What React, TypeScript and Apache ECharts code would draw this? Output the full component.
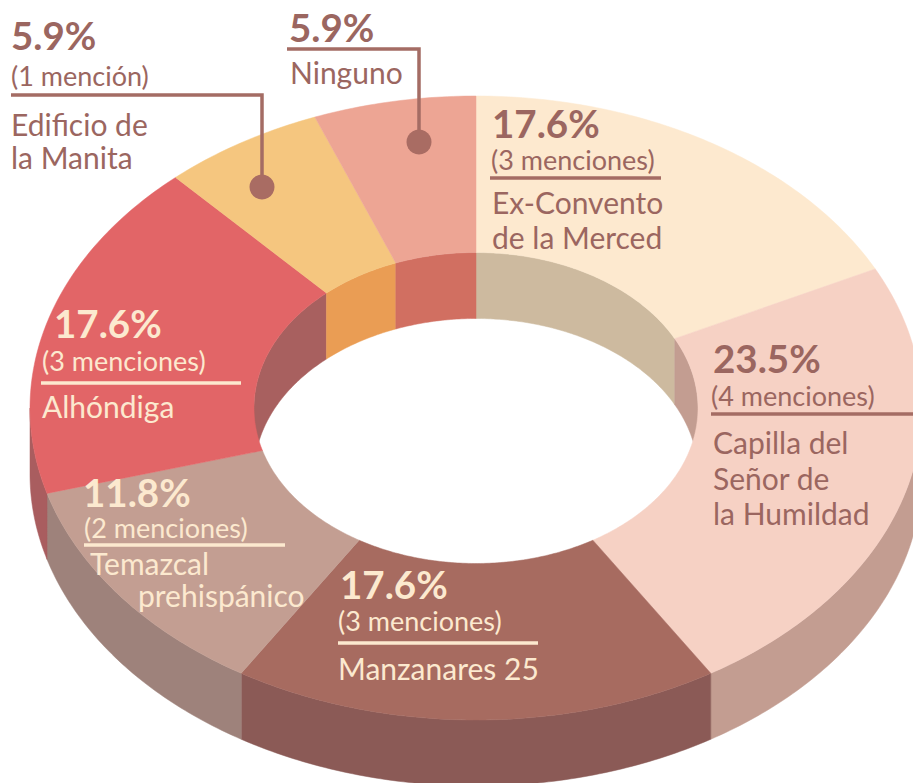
import React, { useEffect, useRef } from "react";
import * as echarts from "echarts";

const names = ["Ex-Convento de la Merced", "Capilla del Señor de la Humildad", "Manzanares 25", "Temazcal prehispánico", "Alhóndiga", "Edificio de la Manita", "Ninguno"];
const mentions = [3, 4, 3, 2, 3, 1, 1];
const percentLabels = ["17.6%", "23.5%", "17.6%", "11.8%", "17.6%", "5.9%", "5.9%"];
const mentionLabels = ["(3 menciones)", "(4 menciones)", "(3 menciones)", "(2 menciones)", "(3 menciones)", "(1 mención)", ""];
const nameLines = [["Ex-Convento", "de la Merced"], ["Capilla del", "Señor de", "la Humildad"], ["Manzanares 25"], ["Temazcal", "prehispánico"], ["Alhóndiga"], ["Edificio de", "la Manita"], ["Ninguno"]];
const topColors = ["#FDE9CF", "#F6D1C4", "#A76B60", "#C39E92", "#E26567", "#F5C67F", "#EDA594"];
const outerWallColors = ["#CDBA9F", "#C39D91", "#8B5A56", "#9E827B", "#A95D5F", "#C39D91", "#C39D91"];
const innerWallColors = ["#CDBA9F", "#C39D91", "#8B5A56", "#9E827B", "#A8605F", "#EA9D54", "#D16F61"];

const DARK = "#9B6660";
const LIGHT = "#FCE9CF";
const FONT = "Lato";

// geometry of the tilted ring
const CX = 476, CY = 408, RX = 446, RY = 312, IRX = 222, IRY = 155.5, DEPTH = 66;

// label layout, same order as the series: [x, baseline] for percent, mentions, names; rule
const layout = [
  { color: DARK, pct: [492, 137.5], men: [491, 168.5], nm: [[492, 212], [492, 247]], rule: [[490, 178], [661, 178]] },
  { color: DARK, pct: [713, 373], men: [711, 405], nm: [[713, 452], [713, 488], [713, 523]], rule: [[711, 414], [913, 414]] },
  { color: LIGHT, pct: [340, 599], men: [338, 630], nm: [[338, 678]], rule: [[338, 643], [538, 643]] },
  { color: LIGHT, pct: [83, 507], men: [84, 537], nm: [[90, 573], [138, 605]], rule: [[84, 545], [285, 545]] },
  { color: LIGHT, pct: [54, 338], men: [42, 370], nm: [[42, 416]], rule: [[41, 383], [241, 383]] },
  { color: DARK, pct: [11, 50], men: [11, 85], nm: [[11, 134], [11, 167]], rule: [[11, 95], [262, 95], [262, 187]], dot: [262, 187] },
  { color: DARK, pct: [289, 42], men: null, nm: [[290, 82]], rule: [[287, 49], [419, 49], [419, 142]], dot: [419, 142] },
];

const total = mentions.reduce((a, b) => a + b, 0);
const rad = (deg: number) => (deg * Math.PI) / 180;

function arc(rx: number, ry: number, a0: number, a1: number, dy = 0) {
  const pts: number[][] = [];
  const n = Math.max(2, Math.ceil(Math.abs(a1 - a0) / 0.75));
  for (let i = 0; i <= n; i++) {
    const a = rad(a0 + ((a1 - a0) * i) / n);
    pts.push([CX + rx * Math.sin(a), CY - ry * Math.cos(a) + dy]);
  }
  return pts;
}

function sliceAngles(dataIndex: number) {
  let sum = 0;
  for (let i = 0; i < dataIndex; i++) sum += mentions[i];
  return [(sum / total) * 360, ((sum + mentions[dataIndex]) / total) * 360];
}

function poly(points: number[][], fill: string) {
  return { type: "polygon", shape: { points }, style: { fill, stroke: fill, lineWidth: 0.5 }, silent: true };
}

function renderWalls(params: any) {
  const [a0, a1] = sliceAngles(params.dataIndex);
  const children: any[] = [];
  // outer wall: the front half of the ring
  const o0 = Math.max(a0, 90), o1 = Math.min(a1, 270);
  if (o1 > o0) {
    children.push(poly([...arc(RX, RY, o0, o1), ...arc(RX, RY, o1, o0, DEPTH)], outerWallColors[params.dataIndex]));
  }
  // inner wall: the back half of the hole
  const ranges = [[a0, Math.min(a1, 90)], [Math.max(a0, 270), a1]];
  ranges.forEach(([s, e]) => {
    if (e > s) children.push(poly([...arc(IRX, IRY, s, e), ...arc(IRX, IRY, e, s, DEPTH)], innerWallColors[params.dataIndex]));
  });
  return { type: "group", children };
}

function renderTop(params: any) {
  const [a0, a1] = sliceAngles(params.dataIndex);
  return poly([...arc(RX, RY, a0, a1), ...arc(IRX, IRY, a1, a0)], topColors[params.dataIndex]);
}

function textEl(text: string, x: number, baseline: number, size: number, fill: string, weight = 400, lift = 0.35) {
  return {
    type: "text",
    z: 100,
    silent: true,
    x,
    y: baseline - size * lift,
    style: { text, fill, font: `${weight} ${size}px ${FONT}`, textAlign: "left", textVerticalAlign: "middle" },
  };
}

function buildGraphics() {
  const out: any[] = [];
  layout.forEach((l, i) => {
    out.push(textEl(percentLabels[i], l.pct[0], l.pct[1], 38.5, l.color, 700, 0.38));
    if (l.men) out.push(textEl(mentionLabels[i], l.men[0], l.men[1], 27, l.color));
    l.nm.forEach((p, j) => out.push(textEl(nameLines[i][j], p[0], p[1], 30, l.color)));
    const lineColor = l.color === DARK ? "#A46C64" : LIGHT;
    out.push({
      type: "polyline",
      z: 99,
      silent: true,
      shape: { points: l.rule },
      style: { stroke: lineColor, lineWidth: 3.5, fill: "none" },
    });
    if (l.dot) {
      out.push({ type: "circle", z: 99, silent: true, shape: { cx: l.dot[0], cy: l.dot[1], r: 12.5 }, style: { fill: "#A96C63" } });
    }
  });
  return out;
}

export default function App() {
  const ref = useRef<HTMLDivElement>(null);
  useEffect(() => {
    const chart = echarts.init(ref.current!, null, { renderer: "svg" });
    const seriesData = mentions.map((v, i) => ({ name: names[i], value: v }));
    chart.setOption({
      animation: false,
      backgroundColor: "#ffffff",
      series: [
        { type: "custom", name: "walls", coordinateSystem: "none", z: 1, silent: true, data: seriesData, renderItem: renderWalls },
        { type: "custom", name: "top", coordinateSystem: "none", z: 2, silent: true, data: seriesData, renderItem: renderTop },
      ],
      graphic: { elements: buildGraphics() },
    });
    return () => chart.dispose();
  }, []);
  return <div ref={ref} style={{ position: "fixed", left: 0, top: 0, width: 913, height: 783 }} />;
}
